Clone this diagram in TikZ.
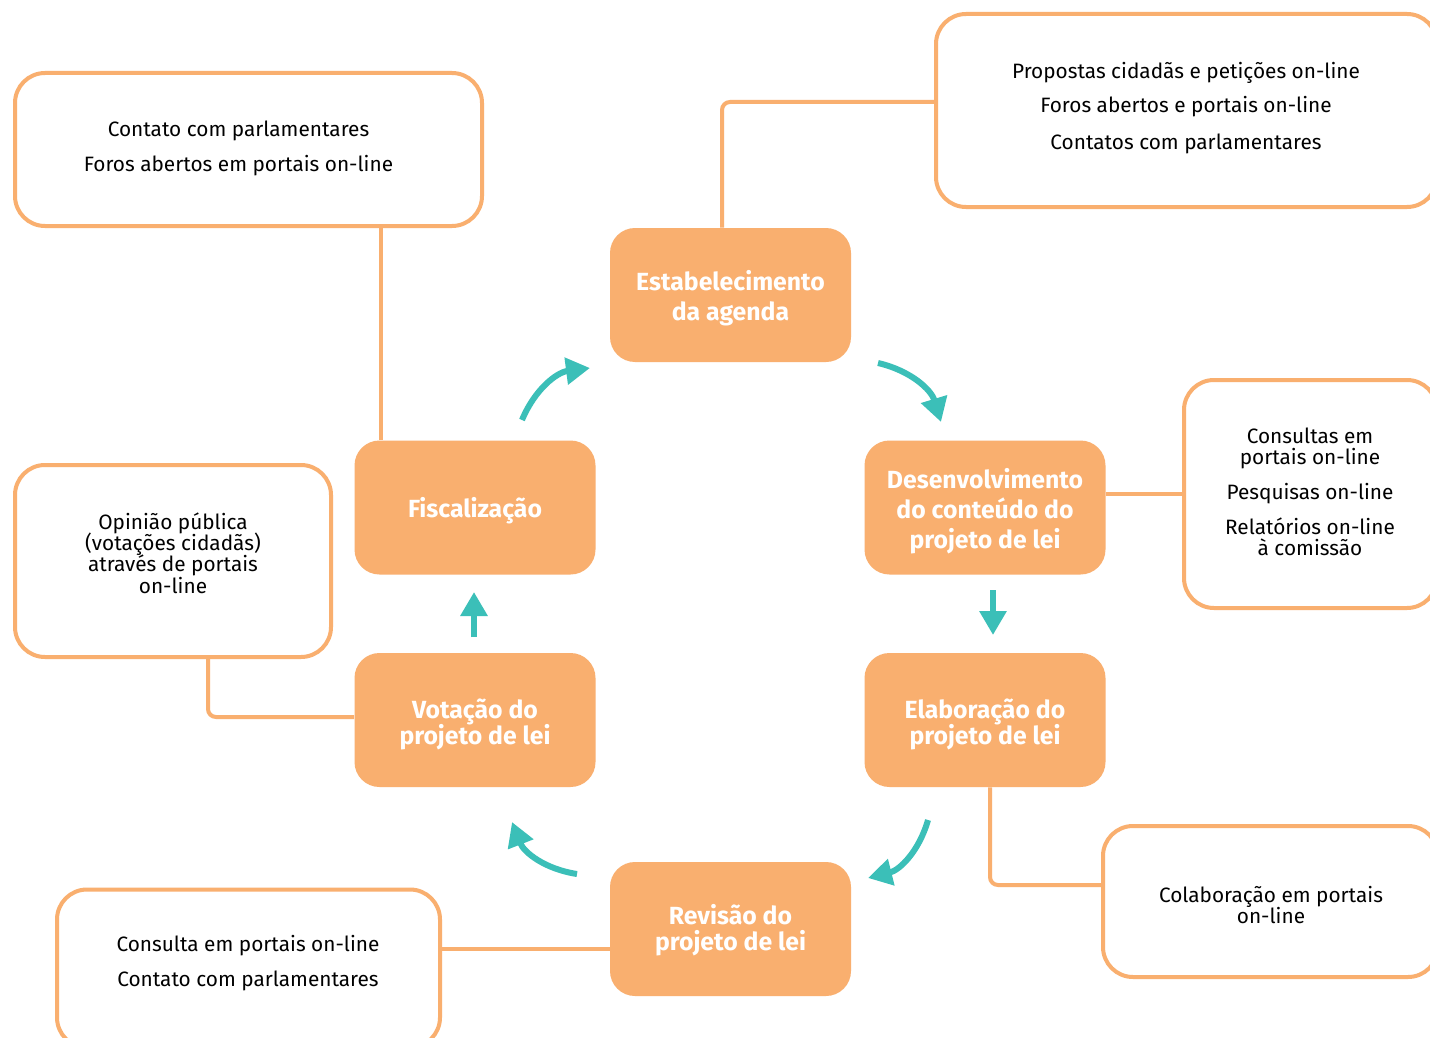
\documentclass[tikz,border=0pt]{standalone}
\usepackage{fontspec}
\setmainfont{Fira Sans}
\usetikzlibrary{arrows.meta}
\definecolor{orng}{HTML}{F9AF6F}
\definecolor{tealc}{HTML}{3BBFB8}
\newcommand\myls{\lineskiplimit=-20pt\relax}
\begin{document}
\begin{tikzpicture}[x=0.5pt,y=-0.5pt,
  stage/.style={fill=orng, rounded corners=12.5pt,
    minimum width=120.5pt, minimum height=67pt, inner sep=0pt},
  stagetext/.style={text=white, font={\bfseries\fontsize{12.4}{15}\selectfont\myls}, align=center, inner sep=0pt},
  tightlines/.style={font={\bfseries\fontsize{12.4}{13}\selectfont\myls}},
  infobox/.style={draw=orng, line width=2pt, rounded corners=15pt, fill=white, inner sep=0pt},
  infotext/.style={align=center, font={\fontsize{10.4}{10.6}\selectfont\myls}, inner sep=0pt},
  link/.style={draw=orng, line width=2pt, rounded corners=4pt},
  flow/.style={draw=tealc, line width=3pt, -{Triangle[length=12pt,width=13pt]}}]
\useasboundingbox (0,0) rectangle (1430,1038);
\clip (0,0) rectangle (1430,1038);
\fill[white] (0,0) rectangle (1430,1038);

% stage nodes
\node[stage] (est) at (730.5,295) {};
\node[stage] (fis) at (475,507.5) {};
\node[stage] (des) at (985,507.5) {};
\node[stage] (vot) at (475,720) {};
\node[stage] (ela) at (985,720) {};
\node[stage] (rev) at (730.5,929) {};
\node[stagetext] (estT) at (730.5,298) {Estabelecimento\\da agenda};
\node[stagetext] (fisT) at (475,511) {Fiscalização};
\node[stagetext] (desT) at (985,511) {Desenvolvimento\\do conteúdo do\\projeto de lei};
\node[stagetext, tightlines] (votT) at (475,724) {Votação do\\projeto de lei};
\node[stagetext, tightlines] (elaT) at (985,724.5) {Elaboração do\\projeto de lei};
\node[stagetext, tightlines] (revT) at (730.5,930) {Revisão do\\projeto de lei};

% info boxes
\node[infobox, minimum width=233.5pt, minimum height=76.5pt] (tlb) at (248.5,149.5) {};
\node[infotext] (tlt) at (238.5,148.5) {Contato com parlamentares\\[7pt]Foros abertos em portais on-line};

\node[infobox, minimum width=250.5pt, minimum height=96.5pt] (trb) at (1186.5,110.5) {};
\node[infotext] (trt) at (1186,108) {Propostas cidadãs e petições on-line\\[6.5pt]Foros abertos e portais on-line\\[8pt]Contatos com parlamentares};

\node[infobox, minimum width=126.5pt, minimum height=114pt] (rb) at (1310.5,494) {};
\node[infotext] (rt) at (1310,492) {Consultas em\\portais on-line\\[6.5pt]Pesquisas on-line\\[7pt]Relatórios on-line\\à comissão};

\node[infobox, minimum width=158pt, minimum height=96pt] (lb) at (173,561) {};
\node[infotext] (lt) at (173,553) {Opinião pública\\(votações cidadãs)\\através de portais\\on-line};

\node[infobox, minimum width=167.5pt, minimum height=75.5pt] (brb) at (1270.5,901.5) {};
\node[infotext] (brt) at (1271,905) {Colaboração em portais\\on-line};

\node[infobox, minimum width=191.5pt, minimum height=79pt] (blb) at (248.5,968.5) {};
\node[infotext] (blt) at (248,963) {Consulta em portais on-line\\[7pt]Contato com parlamentares};

% links
\draw[link] ([xshift=13.5pt]fis.north west) -- ([xshift=13.5pt]fis.north west |- tlb.south);
\draw[link] ([xshift=-4.25pt]est.north) |- ([yshift=4.25pt]trb.west);
\draw[link] (des.east |- rb.west) -- (rb.west);
\draw[link] ([xshift=17.5pt]lb.south) |- ([yshift=1.5pt]vot.west);
\draw[link] ([xshift=2.5pt]ela.south) |- ([yshift=8.25pt]brb.west);
\draw[link] ([yshift=-10pt]rev.west) -- ([yshift=-10pt]rev.west -| blb.east);

% flow arrows
\coordinate (f1a) at (522,420); \coordinate (f1b) at (590,368);
\coordinate (f2a) at (878,363); \coordinate (f2b) at (941,422);
\coordinate (f3a) at (993,590); \coordinate (f3b) at (993,635);
\coordinate (f4a) at (928,820); \coordinate (f4b) at (868,878);
\coordinate (f5a) at (577,874); \coordinate (f5b) at (512,822);
\coordinate (f6a) at (474,637); \coordinate (f6b) at (474,592);
\draw[flow] (f1a) to[bend left=30] (f1b);
\draw[flow] (f2a) to[bend left=30] (f2b);
\draw[flow] (f3a) -- (f3b);
\draw[flow] (f4a) to[bend left=30] (f4b);
\draw[flow] (f5a) to[bend left=30] (f5b);
\draw[flow] (f6a) -- (f6b);
\end{tikzpicture}
\end{document}
